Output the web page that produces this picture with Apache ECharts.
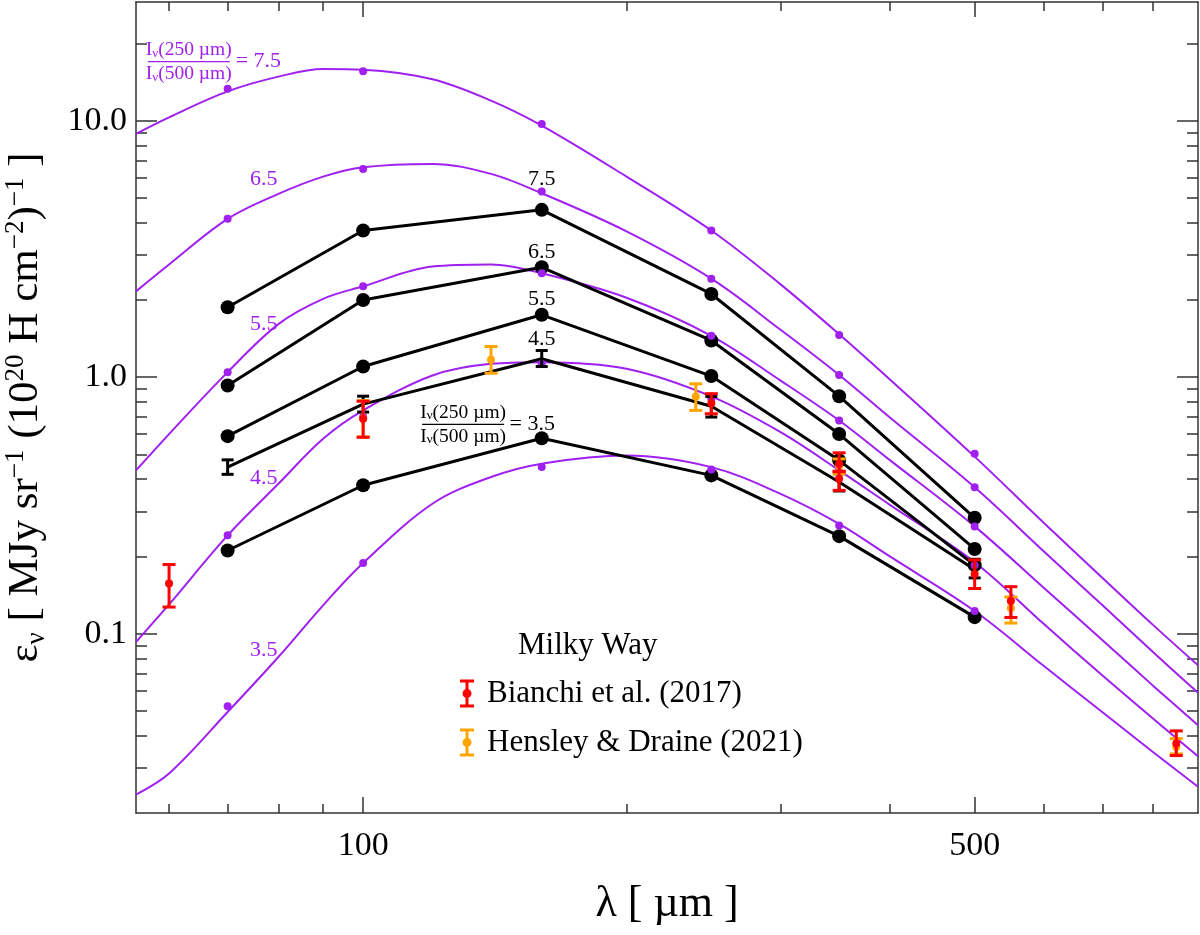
<!DOCTYPE html>
<html>
<head>
<meta charset="utf-8">
<script src="https://cdn.jsdelivr.net/npm/echarts@6/dist/echarts.min.js"></script>
<style>
html,body{margin:0;padding:0;background:#ffffff;}
#chart{width:1200px;height:935px;}
</style>
</head>
<body>
<div id="chart"></div>
<script>
// ---------------- data ----------------
// model curves (wavelength grid in micron, emissivity)
const lambdaModel = [55, 60, 70, 80, 90, 100, 120, 140, 160, 200, 250, 300, 350, 400, 500, 600, 700, 800, 900];
const model35 = [0.0236, 0.0285, 0.0495, 0.0811, 0.129, 0.1885, 0.321, 0.408, 0.46, 0.495, 0.446, 0.351, 0.268, 0.20, 0.1226, 0.0748, 0.0494, 0.0345, 0.0253];
const model45 = [0.0928, 0.13, 0.2417, 0.384, 0.575, 0.742, 1.015, 1.127, 1.144, 1.078, 0.841, 0.61, 0.433, 0.318, 0.19, 0.109, 0.0687, 0.0466, 0.0333];
const model55 = [0.433, 0.60, 1.046, 1.61, 2.02, 2.26, 2.70, 2.75, 2.54, 2.04, 1.45, 0.97, 0.678, 0.475, 0.262, 0.1507, 0.0943, 0.0626, 0.044];
const model65 = [2.16, 2.75, 4.14, 5.18, 6.05, 6.58, 6.78, 6.2, 5.21, 3.7, 2.42, 1.53, 1.02, 0.696, 0.372, 0.209, 0.129, 0.0846, 0.0588];
const model75 = [8.88, 10.3, 13.0, 14.84, 15.9, 15.8, 14.5, 11.97, 9.56, 6.05, 3.73, 2.3, 1.47, 0.98, 0.49, 0.27, 0.165, 0.108, 0.0753];

// band-integrated model points
const lambdaBands = [70, 100, 160, 250, 350, 500];
const band35 = [0.0521, 0.1885, 0.446, 0.437, 0.264, 0.1226];
const band45 = [0.2417, 0.70, 1.127, 0.824, 0.426, 0.185];
const band55 = [1.046, 2.26, 2.54, 1.45, 0.678, 0.262];
const band65 = [4.14, 6.48, 5.29, 2.42, 1.02, 0.372];
const band75 = [13.3, 15.56, 9.71, 3.73, 1.46, 0.503];

// black template SEDs
const sed35 = [0.211, 0.379, 0.578, 0.414, 0.240, 0.116];
const sed45 = [0.446, 0.785, 1.18, 0.77, 0.39, 0.178];
const sed45Lo = [0.418, 0.731, 1.10, 0.699, 0.36, 0.165];
const sed45Hi = [0.476, 0.843, 1.27, 0.841, 0.42, 0.195];
const sed55 = [0.589, 1.10, 1.75, 1.01, 0.474, 0.185];
const sed65 = [0.928, 2.00, 2.68, 1.39, 0.60, 0.214];
const sed75 = [1.874, 3.73, 4.49, 2.11, 0.843, 0.283];

// Milky Way measurements
const bianchiLambda = [60, 100, 250, 350, 350, 500, 550, 850];
const bianchiValue = [0.157, 0.689, 0.792, 0.459, 0.402, 0.171, 0.134, 0.0373];
const bianchiLo = [0.127, 0.583, 0.72, 0.428, 0.362, 0.150, 0.1157, 0.0335];
const bianchiHi = [0.186, 0.806, 0.862, 0.507, 0.43, 0.194, 0.1525, 0.0418];

const hensleyLambda = [100, 140, 240, 350, 550, 850];
const hensleyValue = [0.69, 1.169, 0.841, 0.45, 0.126, 0.0362];
const hensleyLo = [0.585, 1.036, 0.742, 0.42, 0.110, 0.034];
const hensleyHi = [0.81, 1.317, 0.942, 0.48, 0.139, 0.039];

// axes
const xRange = [55, 900];
const yRange = [0.02, 29];
const xTicksMajor = [100, 500];
const xTicksMinor = [60, 70, 80, 90, 200, 300, 400, 600, 700, 800];
const xTickLabels = [100, 500];
const yTicksMajor = [0.1, 1, 10];
const yTicksMinor = [0.03, 0.04, 0.05, 0.06, 0.07, 0.08, 0.09, 0.2, 0.3, 0.4, 0.5, 0.6, 0.7, 0.8, 0.9, 2, 3, 4, 5, 6, 7, 8, 9, 20];
const yTickLabels = [0.1, 1, 10];

const ratioNames = ['3.5', '4.5', '5.5', '6.5', '7.5'];

// ---------------- styling ----------------
const FONT = 'Liberation Serif';
const PURPLE = '#A020F0';
const RED = '#FF0000';
const ORANGE = '#FFA500';
const BLACK = '#000000';
const AXIS = '#333333';
const BIANCHI = 'Bianchi et al. (2017)';
const HENSLEY = 'Hensley & Draine (2021)';
const L = Math.log10;

const GRID = {left: 136, right: 2, top: 2, bottom: 122, containLabel: false, outerBoundsMode: 'none'};

function pairs(xs, ys) { return xs.map((x, i) => [x, ys[i]]); }

function modelLine(ys) {
  return {
    type: 'line', xAxisIndex: 0, yAxisIndex: 0, data: pairs(lambdaModel, ys),
    smooth: 0.35, showSymbol: false, symbol: 'none', silent: true, animation: false, z: 2,
    lineStyle: {color: PURPLE, width: 2}
  };
}
function sedLine(ys, withDots) {
  return {
    type: 'line', xAxisIndex: 0, yAxisIndex: 0, data: pairs(lambdaBands, ys),
    symbol: withDots ? 'circle' : 'none', symbolSize: 14, showSymbol: withDots,
    silent: true, animation: false, z: 3,
    itemStyle: {color: BLACK, opacity: 1}, lineStyle: {color: BLACK, width: 3}
  };
}
function errorBars(name, color, xs, lo, hi, capHalf, z) {
  return {
    type: 'custom', name: name, xAxisIndex: 0, yAxisIndex: 0, z: z, silent: true, animation: false,
    data: xs.map((x, i) => [x, lo[i], hi[i]]),
    encode: {x: 0, y: [1, 2]},
    renderItem: function (params, api) {
      const x = api.value(0);
      const p1 = api.coord([x, api.value(1)]);
      const p2 = api.coord([x, api.value(2)]);
      const st = {stroke: color, lineWidth: 3, fill: null};
      return {
        type: 'group', children: [
          {type: 'line', shape: {x1: p1[0], y1: p1[1], x2: p2[0], y2: p2[1]}, style: st},
          {type: 'line', shape: {x1: p1[0] - capHalf, y1: p1[1], x2: p1[0] + capHalf, y2: p1[1]}, style: st},
          {type: 'line', shape: {x1: p2[0] - capHalf, y1: p2[1], x2: p2[0] + capHalf, y2: p2[1]}, style: st}
        ]
      };
    }
  };
}

// annotation text anchored in data coordinates
const fracRich = function (color) {
  return {
    n: {fontFamily: FONT, fontSize: 19.5, color: color, lineHeight: 20},
    s: {fontFamily: FONT, fontSize: 13, color: color, lineHeight: 20, verticalAlign: 'bottom'},
    bar: {width: 82, height: 1.2, lineHeight: 4, backgroundColor: color, fontSize: 2}
  };
};
const FRAC_TEXT = '{n|I}{s|ν}{n|(250 µm)}\n{bar| }\n{n|I}{s|ν}{n|(500 µm)}';
const annotations = [
  {at: [63.2, 16.97], text: FRAC_TEXT, color: PURPLE, frac: true},
  {at: [71.4, 16.97], text: '= ' + ratioNames[4], color: PURPLE, left: true},
  {at: [77, 5.93], text: ratioNames[3], color: PURPLE},
  {at: [77, 1.615], text: ratioNames[2], color: PURPLE},
  {at: [77, 0.402], text: ratioNames[1], color: PURPLE},
  {at: [77, 0.0862], text: ratioNames[0], color: PURPLE},
  {at: [160, 5.93], text: ratioNames[4], color: BLACK},
  {at: [160, 3.07], text: ratioNames[3], color: BLACK},
  {at: [160, 2.02], text: ratioNames[2], color: BLACK},
  {at: [160, 1.41], text: ratioNames[1], color: BLACK},
  {at: [130.1, 0.654], text: FRAC_TEXT, color: BLACK, frac: true},
  {at: [146.8, 0.654], text: '= ' + ratioNames[0], color: BLACK, left: true}
];
const annotationSeries = {
  type: 'scatter', xAxisIndex: 0, yAxisIndex: 0, silent: true, animation: false, z: 9,
  symbolSize: 1, itemStyle: {color: 'rgba(0,0,0,0)', opacity: 1},
  data: annotations.map(a => ({
    value: a.at,
    label: a.frac ? {
      show: true, position: 'inside', formatter: a.text, rich: fracRich(a.color), align: 'center', opacity: 1
    } : {
      show: true, position: a.left ? 'right' : 'inside', distance: 0, formatter: a.text,
      fontFamily: FONT, fontSize: 22, color: a.color, opacity: 1
    }
  }))
};

// helper axes for ticks and tick labels (log10 space, same extents)
const tickLine = {color: AXIS, width: 1.5};
function helperX(grid, pos, ticks, len, labels) {
  return {
    gridIndex: grid, type: 'value', position: pos, min: L(xRange[0]), max: L(xRange[1]),
    axisLine: {show: false, onZero: false}, splitLine: {show: false},
    axisTick: {show: true, inside: true, length: len, customValues: ticks.map(L), lineStyle: tickLine},
    axisLabel: labels ? {
      show: true, customValues: labels.map(L), margin: 16,
      formatter: v => String(Math.round(Math.pow(10, v))),
      fontFamily: FONT, fontSize: 34, color: BLACK
    } : {show: false}
  };
}
function helperY(grid, pos, ticks, len, labels) {
  return {
    gridIndex: grid, type: 'value', position: pos, min: L(yRange[0]), max: L(yRange[1]),
    axisLine: {show: false, onZero: false}, splitLine: {show: false},
    axisTick: {show: true, inside: true, length: len, customValues: ticks.map(L), lineStyle: tickLine},
    axisLabel: labels ? {
      show: true, customValues: labels.map(L), margin: 9,
      formatter: v => Math.pow(10, v).toFixed(1),
      fontFamily: FONT, fontSize: 34, color: BLACK
    } : {show: false}
  };
}
function frameX(pos, extra) {
  return Object.assign({
    gridIndex: 0, type: 'log', logBase: 10, position: pos, min: xRange[0], max: xRange[1],
    axisLine: {show: true, onZero: false, lineStyle: {color: AXIS, width: 1.5}},
    axisTick: {show: false}, axisLabel: {show: false}, splitLine: {show: false}
  }, extra || {});
}
function frameY(pos, extra) {
  return Object.assign({
    gridIndex: 0, type: 'log', logBase: 10, position: pos, min: yRange[0], max: yRange[1],
    axisLine: {show: true, onZero: false, lineStyle: {color: AXIS, width: 1.5}},
    axisTick: {show: false}, axisLabel: {show: false}, splitLine: {show: false}
  }, extra || {});
}

const ERR_ICON = 'path://M0,0H14V3H0Z M5.5,0H8.5V28H5.5Z M0,25H14V28H0Z M2.5,14A4.5,4.5,0,1,1,11.5,14A4.5,4.5,0,1,1,2.5,14Z';

const option = {
  animation: false,
  backgroundColor: '#ffffff',
  textStyle: {fontFamily: FONT},
  title: {
    text: 'Milky Way', left: 518, top: 630, padding: 0,
    textStyle: {fontFamily: FONT, fontSize: 31, fontWeight: 'normal', color: BLACK, lineHeight: 32}
  },
  legend: {
    orient: 'vertical', left: 460, top: 678, padding: 0, itemWidth: 14, itemHeight: 28, itemGap: 18,
    selectedMode: false,
    textStyle: {fontFamily: FONT, fontSize: 31, color: BLACK, padding: [0, 0, 0, 8], lineHeight: 28},
    data: [{name: BIANCHI, icon: ERR_ICON}, {name: HENSLEY, icon: ERR_ICON}]
  },
  grid: [Object.assign({}, GRID), Object.assign({}, GRID), Object.assign({}, GRID)],
  xAxis: [
    frameX('bottom', {
      name: 'λ [ µm ]', nameLocation: 'middle', nameGap: 69,
      nameTextStyle: {fontFamily: FONT, fontSize: 44, color: BLACK}
    }),
    frameX('top'),
    helperX(1, 'bottom', xTicksMajor, 16, xTickLabels),
    helperX(1, 'top', xTicksMajor, 15, null),
    helperX(2, 'bottom', xTicksMinor, 9, null),
    helperX(2, 'top', xTicksMinor, 9, null)
  ],
  yAxis: [
    frameY('left', {
      name: '{a|ε}{b|ν}{a| [ MJy sr}{c|−1}{a| (10}{c|20}{a| H cm}{c|−2}{a|)}{c|−1}{a| ]}',
      nameLocation: 'middle', nameRotate: 90, nameGap: 86,
      nameTextStyle: {
        fontFamily: FONT, fontSize: 43, color: BLACK,
        rich: {
          a: {fontFamily: FONT, fontSize: 43, color: BLACK, lineHeight: 48},
          b: {fontFamily: FONT, fontSize: 27, color: BLACK, lineHeight: 48, verticalAlign: 'bottom'},
          c: {fontFamily: FONT, fontSize: 27, color: BLACK, lineHeight: 48, verticalAlign: 'top'}
        }
      }
    }),
    frameY('right'),
    helperY(1, 'left', yTicksMajor, 21, yTickLabels),
    helperY(1, 'right', yTicksMajor, 21, null),
    helperY(2, 'left', yTicksMinor, 11, null),
    helperY(2, 'right', yTicksMinor, 11, null)
  ],
  series: [
    modelLine(model35), modelLine(model45), modelLine(model55), modelLine(model65), modelLine(model75),
    sedLine(sed35, true), sedLine(sed45, false), sedLine(sed55, true), sedLine(sed65, true), sedLine(sed75, true),
    {
      type: 'scatter', xAxisIndex: 0, yAxisIndex: 0, silent: true, animation: false, z: 4,
      symbolSize: 8, itemStyle: {color: PURPLE, opacity: 1},
      data: [].concat(pairs(lambdaBands, band35), pairs(lambdaBands, band45), pairs(lambdaBands, band55),
                      pairs(lambdaBands, band65), pairs(lambdaBands, band75))
    },
    errorBars('sed45err', BLACK, lambdaBands, sed45Lo, sed45Hi, 6, 5),
    errorBars('hensleyErr', ORANGE, hensleyLambda, hensleyLo, hensleyHi, 6.5, 6),
    {
      type: 'scatter', name: HENSLEY, xAxisIndex: 0, yAxisIndex: 0, silent: true, animation: false, z: 6,
      symbolSize: 8, itemStyle: {color: ORANGE, opacity: 1}, data: pairs(hensleyLambda, hensleyValue)
    },
    errorBars('bianchiErr', RED, bianchiLambda, bianchiLo, bianchiHi, 6.5, 7),
    {
      type: 'scatter', name: BIANCHI, xAxisIndex: 0, yAxisIndex: 0, silent: true, animation: false, z: 7,
      symbolSize: 8, itemStyle: {color: RED, opacity: 1}, data: pairs(bianchiLambda, bianchiValue)
    },
    annotationSeries
  ]
};

const chart = echarts.init(document.getElementById('chart'), null, {renderer: 'canvas'});
chart.setOption(option);
</script>
</body>
</html>
